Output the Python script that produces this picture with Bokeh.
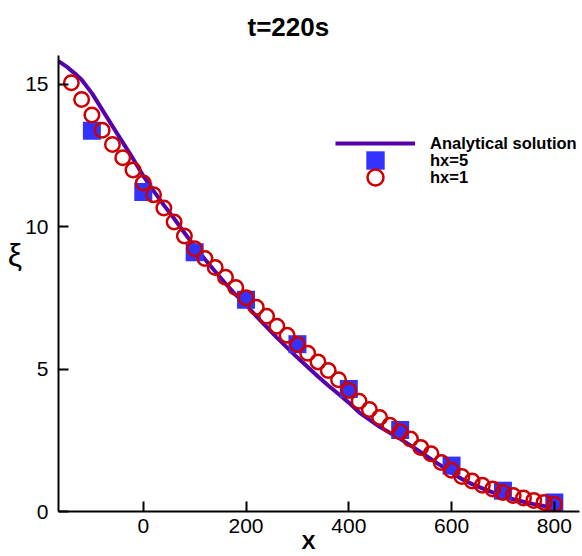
from bokeh.plotting import figure
from bokeh.models import Range1d, FixedTicker, Legend, LegendItem
from bokeh.embed import file_html
from bokeh.resources import INLINE

# ---------------- data ----------------
analytic_x = [-165, -150, -140, -130, -120, -100, -80, -60, -40, -20, 0, 20, 40, 60, 80,
              100, 120, 140, 160, 180, 200, 220, 240, 260, 280, 300, 320, 340, 360, 380,
              400, 420, 440, 460, 480, 500, 520, 540, 560, 580, 600, 620, 640, 660, 680,
              700, 720, 740, 760, 780, 800]
analytic_y = [15.80, 15.62, 15.47, 15.32, 15.15, 14.68, 14.10, 13.52, 12.95, 12.38, 11.78,
              11.25, 10.75, 10.28, 9.78, 9.30, 8.85, 8.42, 8.00, 7.60, 7.25, 6.85, 6.48,
              6.10, 5.75, 5.40, 5.07, 4.74, 4.42, 4.12, 3.82, 3.48, 3.22, 2.97, 2.76, 2.55,
              2.32, 2.08, 1.84, 1.60, 1.36, 1.14, 0.96, 0.81, 0.67, 0.54, 0.43, 0.34, 0.26,
              0.19, 0.14]

hx5_x = [-100, 0, 100, 200, 300, 400, 500, 600, 700, 800]
hx5_y = [13.36, 11.21, 9.10, 7.43, 5.87, 4.30, 2.86, 1.61, 0.73, 0.32]

hx1_x = [-140, -120, -100, -80, -60, -40, -20, 0, 20, 40, 60, 80, 100, 120, 140, 160,
         180, 200, 220, 240, 260, 280, 300, 320, 340, 360, 380, 400, 420, 440, 460, 480,
         500, 520, 540, 560, 580, 600, 620, 640, 660, 680, 700, 720, 740, 760, 780, 800]
hx1_y = [15.04, 14.46, 13.91, 13.38, 12.88, 12.41, 11.98, 11.53, 11.11, 10.65, 10.16, 9.67,
         9.22, 8.88, 8.56, 8.22, 7.86, 7.50, 7.17, 6.85, 6.50, 6.18, 5.86, 5.55, 5.25, 4.95,
         4.62, 4.25, 3.87, 3.58, 3.30, 3.03, 2.80, 2.54, 2.25, 2.03, 1.72, 1.45, 1.23, 1.07,
         0.92, 0.79, 0.67, 0.56, 0.47, 0.39, 0.32, 0.25]

x_ticks = [0, 200, 400, 600, 800]
y_ticks = [0, 5, 10, 15]

FONT = "Liberation Sans"

p = figure(width=580, height=556, output_backend="svg", toolbar_location=None,
           x_range=Range1d(-165, 849), y_range=Range1d(0, 16),
           min_border_left=58, min_border_right=1, min_border_top=55, min_border_bottom=45)
p.outline_line_color = None
p.xgrid.visible = False
p.ygrid.visible = False
p.background_fill_color = "white"

p.title.text = "t=220s"
p.title.text_font = FONT
p.title.text_font_size = "26px"
p.title.text_font_style = "bold"
p.title.text_color = "black"
p.title.align = "left"
p.title.offset = 189
p.title.standoff = 23
p.title.vertical_align = "top"

for ax, ticks, standoff in ((p.xaxis, x_ticks, 7), (p.yaxis, y_ticks, 10)):
    ax.ticker = FixedTicker(ticks=ticks)
    ax.major_tick_in = 10
    ax.major_tick_out = 0
    ax.minor_tick_in = 0
    ax.minor_tick_out = 0
    ax.axis_line_width = 2
    ax.major_tick_line_width = 2
    ax.axis_line_color = "black"
    ax.major_tick_line_color = "black"
    ax.major_label_text_font = FONT
    ax.major_label_text_font_size = "21px"
    ax.major_label_text_color = "black"
    ax.major_label_standoff = standoff

# trailing em space nudges the centred label left, as in the reference
p.xaxis.axis_label = "X\u2003"
p.xaxis.axis_label_text_font = FONT
p.xaxis.axis_label_text_font_size = "21px"
p.xaxis.axis_label_text_font_style = "bold"
p.xaxis.axis_label_text_color = "black"
p.xaxis.axis_label_standoff = -6

# blank trailing lines lift the horizontal label above the frame centre
p.yaxis.axis_label = "ξ\n \n "
p.yaxis.axis_label_text_font = FONT
p.yaxis.axis_label_text_font_size = "32px"
p.yaxis.axis_label_text_font_style = "normal"
p.yaxis.axis_label_text_color = "black"
p.yaxis.axis_label_text_line_height = 0.8
p.yaxis.axis_label_standoff = 0
try:
    p.yaxis.axis_label_orientation = "horizontal"
except Exception:
    pass

r_line = p.line(analytic_x, analytic_y, line_color="#5500AA", line_width=4)
r_sq = p.scatter(hx5_x, hx5_y, marker="square", size=18, fill_color="#3333FF",
                 line_color=None)
r_ci = p.scatter(hx1_x, hx1_y, marker="circle", size=14.5, fill_color=None,
                 line_color="#CC0000", line_width=2.5)

# three one-row legends so rows can sit closer than the marker boxes
legend_rows = [("Analytical solution", r_line, 40, 348),
               ("hx=5", r_sq, 46, 328),
               ("hx=1", r_ci, 40, 314)]
for label, rend, gh, ybot in legend_rows:
    leg = Legend(items=[LegendItem(label=label, renderers=[rend])],
                 location=(277, ybot), glyph_width=80, glyph_height=gh, spacing=0,
                 label_standoff=15, label_text_font_size="16.5px",
                 label_text_font_style="bold", label_text_font=FONT,
                 label_text_color="black",
                 padding=0, margin=0, border_line_color=None,
                 background_fill_alpha=0)
    p.add_layout(leg)

open("out.html", "w").write(file_html(p, INLINE))
